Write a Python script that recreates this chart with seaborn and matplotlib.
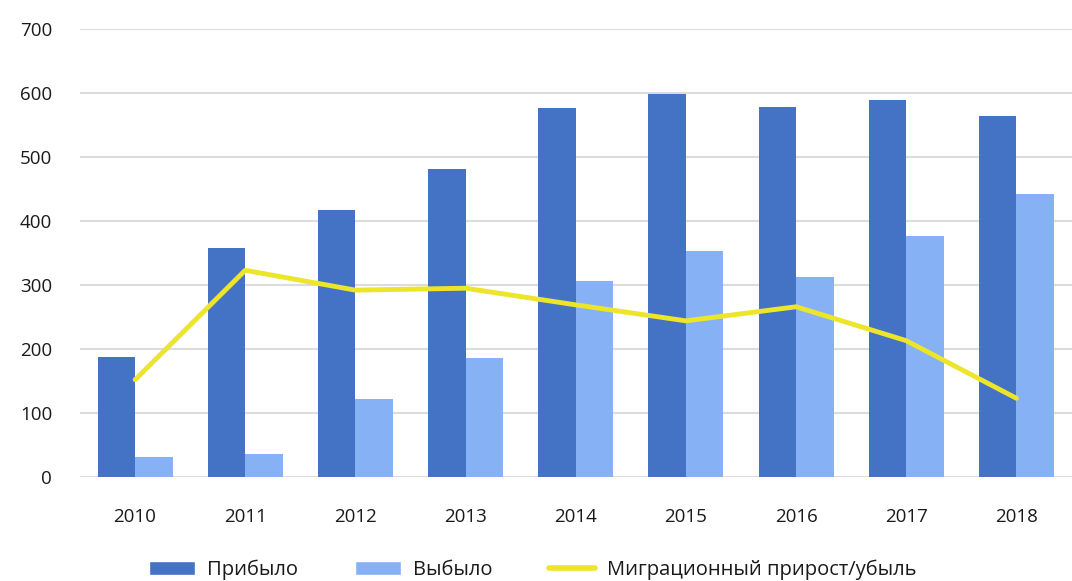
import matplotlib
matplotlib.use("Agg")
import matplotlib.pyplot as plt
import numpy as np
import pandas as pd
import seaborn as sns
from matplotlib.patches import Patch
from matplotlib.lines import Line2D

years = ["2010", "2011", "2012", "2013", "2014", "2015", "2016", "2017", "2018"]
arrived = [187, 358, 417, 481, 576, 598, 578, 589, 564]
departed = [31, 36, 122, 186, 306, 353, 313, 377, 442]
net_migration = [152, 323, 292, 295, 269, 244, 266, 213, 123]

label_arr = "Прибыло"
label_dep = "Выбыло"
label_net = "Миграционный прирост/убыль"

c_dark = "#4472C4"
c_light = "#86B2F5"
c_yellow = "#EDE52A"

sns.set_theme(style="white")
plt.rcParams["font.family"] = ["Open Sans", "DejaVu Sans"]

df = pd.DataFrame({
    "year": years * 2,
    "value": arrived + departed,
    "kind": [label_arr] * len(years) + [label_dep] * len(years),
})

fig = plt.figure(figsize=(10.72, 5.81), dpi=100)
ax = fig.add_axes([0.0746, 0.179, 0.925, 0.771])

sns.barplot(data=df, x="year", y="value", hue="kind",
            palette=[c_dark, c_light], width=0.68, gap=0,
            saturation=1, ax=ax, legend=False, errorbar=None,
            linewidth=0, edgecolor="none")
ax.plot(np.arange(len(years)), net_migration, color=c_yellow, lw=3.5,
        solid_joinstyle="round", solid_capstyle="round", zorder=5)

ax.set_ylim(0, 700)
ax.set_xlim(-0.5, len(years) - 0.5)
ax.set_yticks(range(0, 701, 100))
ax.yaxis.grid(True, color="#DCDCDC", lw=1.5)
ax.set_axisbelow(True)
for s in ["top", "right", "left", "bottom"]:
    ax.spines[s].set_visible(False)
ax.tick_params(axis="y", length=0, pad=20, labelsize=13.5, labelcolor="#1a1a1a")
ax.tick_params(axis="x", length=0, pad=22, labelsize=13.5, labelcolor="#1a1a1a")
ax.set_xlabel("")
ax.set_ylabel("")

handles = [
    Patch(facecolor=c_dark, label=label_arr),
    Patch(facecolor=c_light, label=label_dep),
    Line2D([0], [0], color=c_yellow, lw=4, label=label_net),
]
fig.legend(handles=handles, loc="lower center", ncol=3, frameon=False,
           bbox_to_anchor=(0.497, -0.03), fontsize=14.5, handlelength=2.3,
           handleheight=0.7, columnspacing=2.8, handletextpad=0.6,
           labelcolor="#1a1a1a")

fig.savefig("out.png", dpi=100)
plt.close(fig)
